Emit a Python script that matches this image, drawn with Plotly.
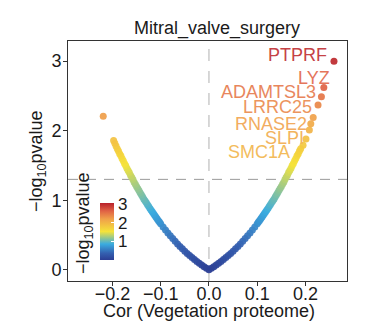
import plotly.graph_objects as go

# Genes with negative correlation (Cor, -log10 pvalue)
neg_cor = [0.0, -0.005, -0.01, -0.015, -0.02, -0.025, -0.03, -0.035, -0.04, -0.045,
           -0.05, -0.055, -0.06, -0.065, -0.07, -0.075, -0.08, -0.085, -0.09, -0.095,
           -0.1, -0.1025, -0.105, -0.1075, -0.11, -0.1125, -0.115, -0.1175, -0.12,
           -0.1225, -0.125, -0.1275, -0.13, -0.1325, -0.135, -0.1375, -0.14, -0.1425,
           -0.145, -0.1475, -0.15, -0.1525, -0.155, -0.1575, -0.16, -0.1625, -0.165,
           -0.1675, -0.17, -0.1725, -0.175, -0.1775, -0.18, -0.1825, -0.185, -0.1875,
           -0.19, -0.1925, -0.195, -0.1975, -0.219]
neg_logp = [0.0, 0.022, 0.045, 0.069, 0.094, 0.121, 0.148, 0.177, 0.206, 0.237,
            0.269, 0.302, 0.337, 0.373, 0.411, 0.45, 0.49, 0.531, 0.574, 0.618,
            0.664, 0.687, 0.711, 0.735, 0.76, 0.785, 0.81, 0.835, 0.861,
            0.887, 0.914, 0.941, 0.968, 0.995, 1.02, 1.05, 1.08, 1.11,
            1.14, 1.17, 1.2, 1.23, 1.26, 1.3, 1.33, 1.36, 1.4,
            1.43, 1.46, 1.5, 1.53, 1.57, 1.6, 1.64, 1.67, 1.71,
            1.74, 1.78, 1.82, 1.86, 2.21]

# Genes with positive correlation (Cor, -log10 pvalue)
pos_cor = [0.005, 0.01, 0.015, 0.02, 0.025, 0.03, 0.035, 0.04, 0.045,
           0.05, 0.055, 0.06, 0.065, 0.07, 0.075, 0.08, 0.085, 0.09, 0.095,
           0.1, 0.1025, 0.105, 0.1075, 0.11, 0.1125, 0.115, 0.1175, 0.12,
           0.1225, 0.125, 0.1275, 0.13, 0.1325, 0.135, 0.1375, 0.14, 0.1425,
           0.145, 0.1475, 0.15, 0.1525, 0.155, 0.1575, 0.16, 0.1625, 0.165,
           0.1675, 0.17, 0.1725, 0.175, 0.1775, 0.18, 0.1825, 0.185, 0.1875,
           0.19, 0.195, 0.201]
pos_logp = [0.022, 0.045, 0.069, 0.094, 0.121, 0.148, 0.177, 0.206, 0.237,
            0.269, 0.302, 0.337, 0.373, 0.411, 0.45, 0.49, 0.531, 0.574, 0.618,
            0.664, 0.687, 0.711, 0.735, 0.76, 0.785, 0.81, 0.835, 0.861,
            0.887, 0.914, 0.941, 0.968, 0.995, 1.02, 1.05, 1.08, 1.11,
            1.14, 1.17, 1.2, 1.23, 1.26, 1.3, 1.33, 1.36, 1.4,
            1.43, 1.46, 1.5, 1.53, 1.57, 1.6, 1.64, 1.67, 1.71,
            1.74, 1.79, 1.88]

# Top labelled genes
top_genes = ["PTPRF", "LYZ", "ADAMTSL3", "LRRC25", "RNASE2", "SLPI", "SMC1A"]
top_cor = [0.259, 0.238, 0.233, 0.226, 0.216, 0.211, 0.208]
top_logp = [3.00, 2.62, 2.49, 2.37, 2.19, 2.10, 2.01]
# label offsets (pixels) from each point
label_dx = [-6, 7, -4, -5, -5, -6, -18]
label_dy = [6, 10, 5, -2, -6, -14, -22]

x_ticks = [-0.2, -0.1, 0.0, 0.1, 0.2]
x_ticktext = ["\u22120.2", "\u22120.1", "0.0", "0.1", "0.2"]
y_ticks = [0, 1, 2, 3]

CMIN, CMAX = 0.0, 3.05
stops = [
    (0.00, (44, 62, 148)),
    (0.12, (52, 96, 176)),
    (0.28, (58, 172, 224)),
    (0.50, (245, 227, 58)),
    (0.72, (240, 160, 74)),
    (0.86, (224, 98, 69)),
    (1.00, (184, 32, 42)),
]
colorscale = [[p, "rgb(%d,%d,%d)" % c] for p, c in stops]


def scale_color(v, fade=0.0):
    t = min(max((v - CMIN) / (CMAX - CMIN), 0), 1)
    for (p0, c0), (p1, c1) in zip(stops[:-1], stops[1:]):
        if p0 <= t <= p1:
            f = (t - p0) / (p1 - p0)
            rgb = [c0[i] + f * (c1[i] - c0[i]) for i in range(3)]
            rgb = [r + fade * (255 - r) for r in rgb]
            return "rgb(%d,%d,%d)" % tuple(round(r) for r in rgb)
    return "rgb(%d,%d,%d)" % stops[-1][1]


cor = neg_cor + pos_cor + top_cor
logp = neg_logp + pos_logp + top_logp
order = sorted(range(len(cor)), key=lambda i: logp[i])
cor = [cor[i] for i in order]
logp = [logp[i] for i in order]

FONT = "Liberation Sans, Arial, sans-serif"

fig = go.Figure()
fig.add_trace(go.Scatter(
    x=cor, y=logp, mode="markers",
    marker=dict(
        size=7, color=logp, colorscale=colorscale, cmin=CMIN, cmax=CMAX,
        opacity=0.92, line=dict(width=0),
        colorbar=dict(
            thickness=14, len=57, lenmode="pixels",
            x=(100 - 68) / 279, xanchor="left", xpad=0,
            y=(281 - 231.5) / 240, yanchor="middle", ypad=0,
            outlinewidth=0, tickvals=[1, 2, 3],
            ticks="inside", ticklen=3, tickcolor="white",
            tickfont=dict(size=17, color="#1a1a1a", family=FONT),
        ),
    ),
    showlegend=False, hoverinfo="skip",
))

for g, x, y, dx, dy in zip(top_genes, top_cor, top_logp, label_dx, label_dy):
    fig.add_annotation(
        x=x, y=y, text=g, showarrow=False, xanchor="right", yanchor="middle",
        xshift=dx, yshift=dy, borderpad=0,
        font=dict(size=18, family=FONT, color=scale_color(y, 0.12)),
    )

# significance threshold and zero-correlation guide
fig.add_shape(type="line", xref="paper", x0=0, x1=1, yref="y", y0=1.301, y1=1.301,
              line=dict(color="#999999", width=1, dash="10px,8px"), layer="below")
fig.add_shape(type="line", xref="x", x0=0, x1=0, yref="paper", y0=0, y1=1,
              line=dict(color="#bdbdbd", width=1.2, dash="12px,10px"), layer="below")

fig.add_annotation(xref="paper", yref="paper", x=(37 - 68) / 279, y=0.5,
                   text="\u2212log<sub>10</sub>pvalue", textangle=-90, showarrow=False,
                   xanchor="center", yanchor="middle",
                   font=dict(size=18, family=FONT, color="#1a1a1a"))
fig.add_annotation(xref="paper", yref="paper", x=(84.5 - 68) / 279, y=(281 - 223.5) / 240,
                   text="\u2212log<sub>10</sub>pvalue", textangle=-90, showarrow=False,
                   xanchor="center", yanchor="middle",
                   font=dict(size=18, family=FONT, color="#1a1a1a"))
fig.add_annotation(xref="paper", yref="paper", x=(209 - 68) / 279, y=(281 - 311) / 240,
                   text="Cor (Vegetation proteome)", showarrow=False,
                   xanchor="center", yanchor="middle",
                   font=dict(size=18, family=FONT, color="#1a1a1a"))

axis_common = dict(showgrid=False, zeroline=False, showline=True, mirror=True,
                   linecolor="#333333", linewidth=1, ticks="outside", ticklen=4,
                   tickcolor="#333333",
                   tickfont=dict(size=18, family=FONT, color="#1a1a1a"))

fig.update_layout(
    width=383, height=327,
    margin=dict(l=68, r=36, t=41, b=46, autoexpand=False),
    paper_bgcolor="white", plot_bgcolor="white",
    title=dict(text="Mitral_valve_surgery", x=(217 - 68) / 279, xref="paper",
               xanchor="center", y=1 - 28 / 327, yref="container", yanchor="middle",
               font=dict(size=18, family=FONT, color="#1a1a1a")),
    xaxis=dict(range=[-0.292, 0.286], tickvals=x_ticks, ticktext=x_ticktext,
               ticklabelstandoff=-8, **axis_common),
    yaxis=dict(range=[-0.16, 3.29], tickvals=y_ticks, ticklabelstandoff=-2, **axis_common),
)

fig.write_html("out.html")
